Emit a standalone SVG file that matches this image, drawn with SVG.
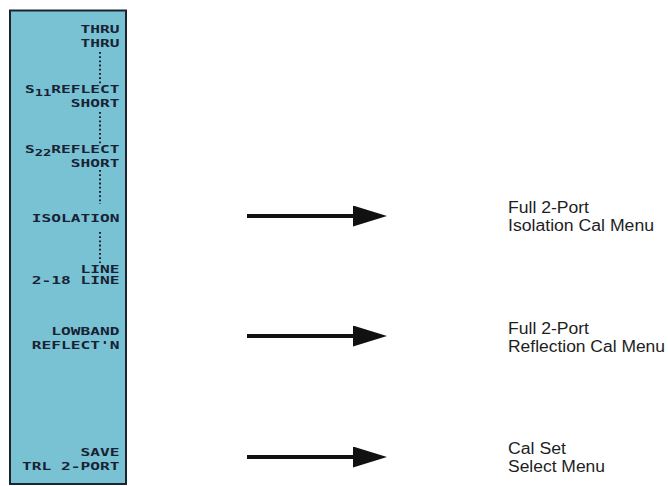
<svg xmlns="http://www.w3.org/2000/svg" width="668" height="486" viewBox="0 0 668 486">
<style>
  .key { font-family: "DejaVu Sans Mono", "Liberation Mono", monospace; font-weight: bold; font-size: 10.8px; fill: #182234; text-anchor: end; }
  .sub { font-size: 9.2px; }
  .lbl { font-family: "Liberation Sans", Arial, sans-serif; font-size: 16px; fill: #1e1e1e; }
  .dots { stroke: #182234; stroke-width: 2; stroke-dasharray: 1.8 2.4; fill: none; }
  .arrow { stroke: #111; stroke-width: 4; fill: none; marker-end: url(#head); }
</style>
<defs>
  <marker id="head" markerUnits="userSpaceOnUse" markerWidth="36" markerHeight="24" refX="7" refY="10.5" orient="auto">
    <path d="M0,0 L34,10.5 L0,21 Z" fill="#111"/>
  </marker>
</defs>
<rect width="668" height="486" fill="#ffffff"/>

<g id="panel">
  <rect x="10" y="10.5" width="116" height="473.5" fill="#79c2d4" stroke="#1c2430" stroke-width="2"/>
  <line class="dots" x1="100" y1="52" x2="100" y2="84"/>
  <line class="dots" x1="100" y1="112" x2="100" y2="144"/>
  <line class="dots" x1="100" y1="170" x2="100" y2="204"/>
  <line class="dots" x1="100" y1="232" x2="100" y2="263"/>
  <g transform="matrix(1.5 0 0 1 -59.75 0)">
    <g id="key-thru"><text class="key" x="119.5" y="33.3">THRU</text><text class="key" x="119.5" y="46.7">THRU</text></g>
    <g id="key-s11"><text class="key" x="119.5" y="93.3">S<tspan class="sub" dy="3">11</tspan><tspan dy="-3">REFLECT</tspan></text><text class="key" x="119.5" y="106.7">SHORT</text></g>
    <g id="key-s22"><text class="key" x="119.5" y="152.7">S<tspan class="sub" dy="3">22</tspan><tspan dy="-3">REFLECT</tspan></text><text class="key" x="119.5" y="166.7">SHORT</text></g>
    <g id="key-isolation"><text class="key" x="119.5" y="221.7">ISOLATION</text></g>
    <g id="key-line"><text class="key" x="119.5" y="273.3">LINE</text><text class="key" x="119.5" y="284.5">2-18 LINE</text></g>
    <g id="key-lowband"><text class="key" x="119.5" y="335.3">LOWBAND</text><text class="key" x="119.5" y="349.3">REFLECT'N</text></g>
    <g id="key-save"><text class="key" x="119.5" y="456">SAVE</text><text class="key" x="119.5" y="470">TRL 2-PORT</text></g>
  </g>
</g>

<g id="connectors">
  <line class="arrow" x1="247" y1="216" x2="360" y2="216"/>
  <line class="arrow" x1="247" y1="336" x2="360" y2="336"/>
  <line class="arrow" x1="247" y1="457" x2="360" y2="457"/>
</g>

<g id="isolation-menu"><text class="lbl" x="508" y="213" textLength="81" lengthAdjust="spacingAndGlyphs">Full 2-Port</text><text class="lbl" x="508" y="231" textLength="146" lengthAdjust="spacingAndGlyphs">Isolation Cal Menu</text></g>
<g id="reflection-menu"><text class="lbl" x="508" y="334" textLength="81" lengthAdjust="spacingAndGlyphs">Full 2-Port</text><text class="lbl" x="508" y="352" textLength="157" lengthAdjust="spacingAndGlyphs">Reflection Cal Menu</text></g>
<g id="calset-menu"><text class="lbl" x="508" y="454" textLength="58" lengthAdjust="spacingAndGlyphs">Cal Set</text><text class="lbl" x="508" y="472" textLength="97" lengthAdjust="spacingAndGlyphs">Select Menu</text></g>
</svg>
